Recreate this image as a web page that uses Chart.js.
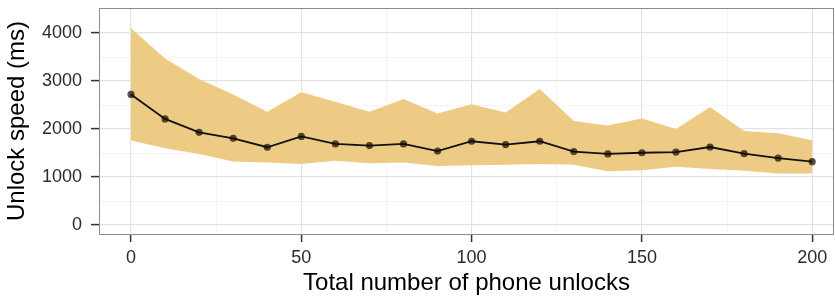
<!DOCTYPE html>
<html>
<head>
<meta charset="utf-8">
<script src="https://cdn.jsdelivr.net/npm/chart.js@4.4.0/dist/chart.umd.min.js"></script>
<style>
  html, body { margin: 0; padding: 0; background: #fff; }
  #wrap { width: 835px; height: 296px; }
</style>
</head>
<body>
<div id="wrap"><canvas id="chart" width="835" height="296"></canvas></div>
<script>
// données
const unlocks = [0, 10, 20, 30, 40, 50, 60, 70, 80, 90, 100, 110, 120, 130, 140, 150, 160, 170, 180, 190, 200];
const meanSpeed = [2720, 2210, 1930, 1805, 1620, 1845, 1690, 1655, 1690, 1540, 1745, 1675, 1745, 1530, 1480, 1505, 1520, 1625, 1485, 1395, 1320];
const upperSpeed = [4100, 3470, 3040, 2720, 2360, 2765, 2570, 2360, 2625, 2325, 2515, 2345, 2835, 2165, 2075, 2220, 2000, 2460, 1960, 1910, 1765];
const lowerSpeed = [1760, 1600, 1480, 1325, 1300, 1270, 1340, 1285, 1300, 1230, 1245, 1255, 1270, 1255, 1120, 1140, 1215, 1165, 1130, 1075, 1075];

const xMajorTicks = [0, 50, 100, 150, 200];
const xMinorTicks = [25, 75, 125, 175];
const yMajorTicks = [0, 1000, 2000, 3000, 4000];
const yMinorTicks = [500, 1500, 2500, 3500];

const toPts = arr => arr.map((v, i) => ({ x: unlocks[i], y: v }));

// cadre gris autour de la zone de tracé (theme_bw)
const panelBorder = {
  id: "panelBorder",
  afterDraw(chart) {
    const { ctx, chartArea: a } = chart;
    ctx.save();
    ctx.strokeStyle = "#8c8c8c";
    ctx.lineWidth = 1;
    ctx.strokeRect(a.left + 0.5, a.top + 0.5, a.right - a.left - 1, a.bottom - a.top);
    ctx.restore();
  }
};

const gridColor = (majors) => (c) =>
  c.tick && majors.includes(c.tick.value) ? "#e3e3e3" : "#f1f1f1";
const tickMarkColor = (majors) => (c) =>
  c.tick && majors.includes(c.tick.value) ? "#333333" : "rgba(0,0,0,0)";

new Chart(document.getElementById("chart").getContext("2d"), {
  type: "line",
  data: {
    datasets: [
      {
        label: "upper",
        data: toPts(upperSpeed),
        borderWidth: 0,
        pointRadius: 0,
        backgroundColor: "#eecb84",
        fill: "+1",
        tension: 0,
        order: 2
      },
      {
        label: "lower",
        data: toPts(lowerSpeed),
        borderWidth: 0,
        pointRadius: 0,
        backgroundColor: "#eecb84",
        fill: false,
        tension: 0,
        order: 1
      },
      {
        label: "mean",
        data: toPts(meanSpeed),
        borderColor: "#111111",
        borderWidth: 1.8,
        pointRadius: 3.6,
        pointBorderWidth: 0,
        pointBackgroundColor: "rgba(20,12,0,0.72)",
        fill: false,
        tension: 0,
        order: 0
      }
    ]
  },
  options: {
    responsive: false,
    animation: false,
    layout: { autoPadding: false, padding: { top: 8, right: 1, left: 0, bottom: 0 } },
    plugins: {
      legend: { display: false },
      tooltip: { enabled: false }
    },
    scales: {
      x: {
        type: "linear",
        min: -9.4,
        max: 206.4,
        afterBuildTicks: s => {
          s.ticks = [...xMajorTicks, ...xMinorTicks].sort((a, b) => a - b).map(v => ({ value: v }));
        },
        afterFit: s => { s.height = 62; s.paddingLeft = 0; s.paddingRight = 0; },
        border: { display: false },
        grid: {
          color: gridColor(xMajorTicks),
          lineWidth: c => (c.tick && xMajorTicks.includes(c.tick.value) ? 1.2 : 0.8),
          tickColor: tickMarkColor(xMajorTicks),
          tickLength: 8,
          tickWidth: 1.5
        },
        ticks: {
          autoSkip: false,
          maxRotation: 0,
          padding: 5,
          color: "#2b2b2b",
          font: { family: "'Liberation Sans', Arial, sans-serif", size: 18 },
          callback: v => (xMajorTicks.includes(v) ? String(v) : "")
        },
        title: {
          display: true,
          text: "Total number of phone unlocks",
          color: "#000",
          padding: { top: 0, bottom: 1 },
          font: { family: "'Liberation Sans', Arial, sans-serif", size: 24, lineHeight: 1 }
        }
      },
      y: {
        type: "linear",
        min: -187.5,
        max: 4521,
        afterBuildTicks: s => {
          s.ticks = [...yMajorTicks, ...yMinorTicks].sort((a, b) => a - b).map(v => ({ value: v }));
        },
        afterFit: s => { s.width = 99; s.paddingTop = 0; s.paddingBottom = 0; },
        border: { display: false },
        grid: {
          color: gridColor(yMajorTicks),
          lineWidth: c => (c.tick && yMajorTicks.includes(c.tick.value) ? 1.2 : 0.8),
          tickColor: tickMarkColor(yMajorTicks),
          tickLength: 8,
          tickWidth: 1.5
        },
        ticks: {
          autoSkip: false,
          padding: 9,
          color: "#2b2b2b",
          font: { family: "'Liberation Sans', Arial, sans-serif", size: 18 },
          callback: v => (yMajorTicks.includes(v) ? String(v) : "")
        },
        title: {
          display: true,
          text: "Unlock speed (ms)",
          color: "#000",
          padding: { top: 5, bottom: 0 },
          font: { family: "'Liberation Sans', Arial, sans-serif", size: 24, lineHeight: 1 }
        }
      }
    }
  },
  plugins: [panelBorder]
});
</script>
</body>
</html>
